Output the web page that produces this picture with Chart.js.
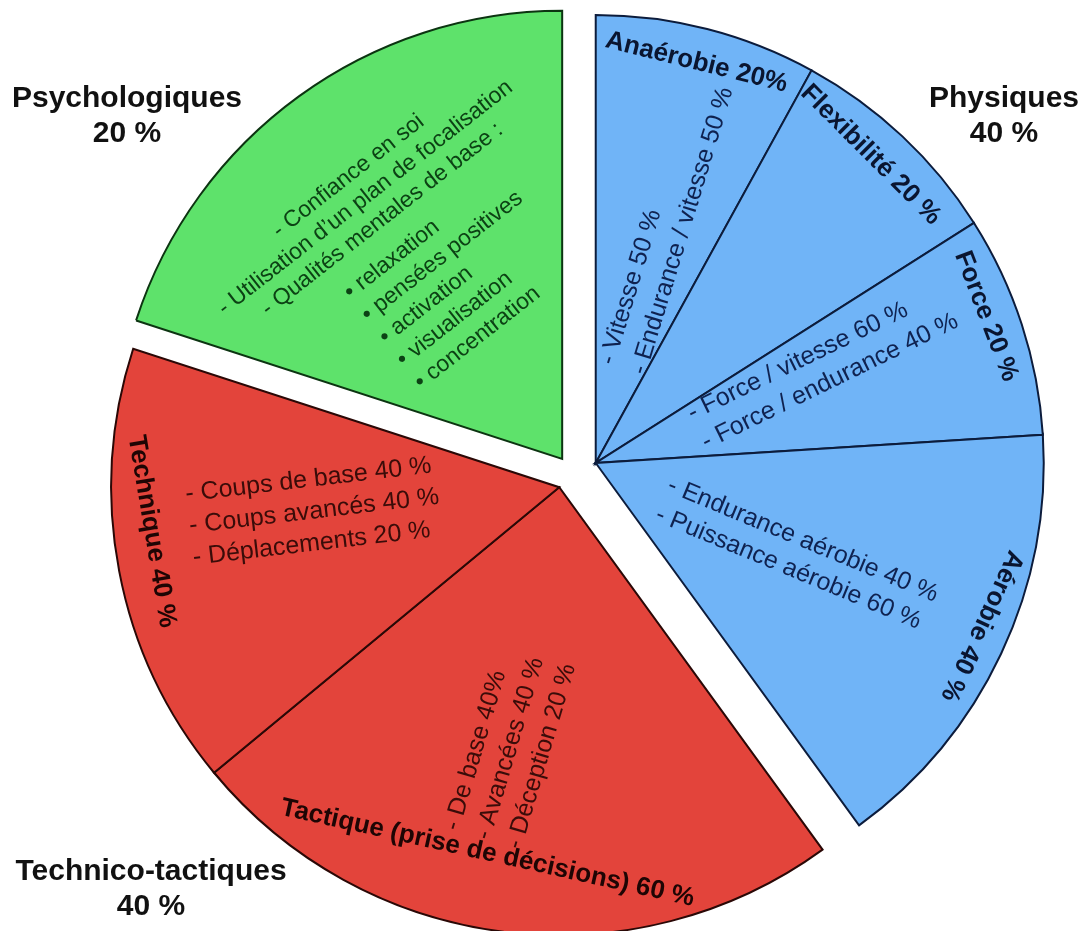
<!DOCTYPE html>
<html lang="fr">
<head>
<meta charset="utf-8">
<title>Répartition de l'entraînement</title>
<script src="https://cdn.jsdelivr.net/npm/chart.js@4.4.1/dist/chart.umd.min.js"></script>
<style>
  html, body { margin: 0; padding: 0; background: #fff; }
  #wrap { position: relative; width: 1084px; height: 931px; }
</style>
</head>
<body>
<div id="wrap"><canvas id="pieChart"></canvas></div>
<script>
// groupes principaux et leur part du total
const groups = ["Physiques", "Technico-tactiques", "Psychologiques"];
const groupShares = [40, 40, 20];

// sous-parts (en % du groupe)
const subLabels = ["Anaérobie", "Flexibilité", "Force", "Aérobie", "Tactique (prise de décisions)", "Technique", "Psychologiques"];
const subShares = [20, 20, 20, 40, 60, 40, 100];
const subGroup = [0, 0, 0, 0, 1, 1, 2];

// contenu de chaque part
const anaerobieItems = ["- Vitesse 50 %", "- Endurance / vitesse 50 %"];
const forceItems = ["- Force / vitesse 60 %", "- Force / endurance 40 %"];
const aerobieItems = ["- Endurance aérobie 40 %", "- Puissance aérobie 60 %"];
const tactiqueItems = ["- De base 40%", "- Avancées 40 %", "- Déception 20 %"];
const techniqueItems = ["- Coups de base 40 %", "- Coups avancés 40 %", "- Déplacements 20 %"];
const psychoItems = ["- Confiance en soi", "- Utilisation d’un plan de focalisation", "- Qualités mentales de base :"];
const psychoQualities = ["relaxation", "pensées positives", "activation", "visualisation", "concentration"];

// valeur de chaque part dans le total
const values = subShares.map((s, i) => (s * groupShares[subGroup[i]]) / 100);

const fillColors = ["#70b4f7", "#e3443b", "#5ee26b"];
const edgeColors = ["#0c1c3c", "#2a0806", "#0c3411"];
const textColors = ["#0f2250", "#3a0c09", "#0c4214"];
const titleColors = ["#0a1530", "#1e0504", "#0a2a0d"];
const explode = [26, 20, 15];

const FONT = '"Liberation Sans", Arial, Helvetica, sans-serif';

const titles = subLabels.map((n, i) =>
  subGroup[i] === 2 ? null : n + " " + subShares[i] + (i === 0 ? "%" : " %")
);

// placement des textes : part, fraction de l'angle, distance au centre, rotation
const titleLayout = [
  { f: 0.49, d: 413, rot: 14 },
  { f: 0.45, d: 413, rot: 45 },
  { f: 0.41, d: 417, rot: 69 },
  { f: 0.46, d: 419, rot: 115 },
  { f: 0.545, d: 373, rot: 12.5 },
  { f: 0.58, d: 410, rot: 80.5 },
  null,
];

const blocks = [
  { lines: anaerobieItems, slice: 0, f: 0.5625, d: 98, rot: -73, align: "left", lh: 33, size: 25 },
  { lines: forceItems, slice: 2, f: 0.476, d: 106, rot: -26, align: "left", lh: 32, size: 25 },
  { lines: aerobieItems, slice: 3, f: 0.554, d: 76, rot: 22.5, align: "left", lh: 31.5, size: 25 },
  { lines: tactiqueItems, slice: 4, f: 0.558, d: 360, rot: -73.5, align: "left", lh: 32.5, size: 25 },
  { lines: techniqueItems, slice: 5, f: 0.583, d: 372, rot: -6.7, align: "left", lh: 32, size: 25 },
  { lines: psychoItems, slice: 6, f: 0.486, d: 327, rot: -38, align: "center", lh: 27.5, size: 23 },
  { lines: psychoQualities.map((q) => "• " + q), slice: 6, f: 0.215, d: 216, rot: -38, align: "left", lh: 28.6, size: 23 },
];

// étiquettes des groupes hors du camembert (ligne de base de la 1re ligne)
const groupLabelPos = [
  { x: 1004, y: 107 },
  { x: 151, y: 880 },
  { x: 127, y: 107 },
];

const rad = (deg) => (deg * Math.PI) / 180;

function groupShift(chart, g) {
  const arcs = chart.getDatasetMeta(0).data;
  const idx = [];
  subGroup.forEach((gg, i) => { if (gg === g) idx.push(i); });
  const mid = (arcs[idx[0]].startAngle + arcs[idx[idx.length - 1]].endAngle) / 2;
  return { dx: explode[g] * Math.cos(mid), dy: explode[g] * Math.sin(mid) };
}

function pointInSlice(chart, i, f, d) {
  const arc = chart.getDatasetMeta(0).data[i];
  const s = groupShift(chart, subGroup[i]);
  const a = arc.startAngle + f * (arc.endAngle - arc.startAngle);
  return { x: arc.x + s.dx + d * Math.cos(a), y: arc.y + s.dy + d * Math.sin(a) };
}

function drawLines(ctx, x, y, rot, lines, font, color, align, lh) {
  ctx.save();
  ctx.translate(x, y);
  ctx.rotate(rad(rot));
  ctx.font = font;
  ctx.fillStyle = color;
  ctx.textAlign = align;
  ctx.textBaseline = "middle";
  const top = -((lines.length - 1) * lh) / 2;
  lines.forEach((line, k) => ctx.fillText(line, 0, top + k * lh));
  ctx.restore();
}

// décale chaque groupe de parts vers l'extérieur
const explodePlugin = {
  id: "explodeGroups",
  beforeDatasetDraw(chart) {
    chart.getDatasetMeta(0).data.forEach((arc, i) => {
      const s = groupShift(chart, subGroup[i]);
      arc.x += s.dx;
      arc.y += s.dy;
    });
  },
  afterDatasetDraw(chart) {
    chart.getDatasetMeta(0).data.forEach((arc, i) => {
      const s = groupShift(chart, subGroup[i]);
      arc.x -= s.dx;
      arc.y -= s.dy;
    });
  },
};

const textPlugin = {
  id: "sliceTexts",
  afterDraw(chart) {
    const ctx = chart.ctx;

    titles.forEach((t, i) => {
      if (!t) return;
      const l = titleLayout[i];
      const p = pointInSlice(chart, i, l.f, l.d);
      drawLines(ctx, p.x, p.y, l.rot, [t], "bold 26px " + FONT, titleColors[subGroup[i]], "center", 0);
    });

    blocks.forEach((b) => {
      const p = pointInSlice(chart, b.slice, b.f, b.d);
      drawLines(ctx, p.x, p.y, b.rot, b.lines, b.size + "px " + FONT, textColors[subGroup[b.slice]], b.align, b.lh);
    });

    ctx.save();
    ctx.font = "bold 30px " + FONT;
    ctx.fillStyle = "#111";
    ctx.textAlign = "center";
    ctx.textBaseline = "alphabetic";
    groups.forEach((g, k) => {
      const pos = groupLabelPos[k];
      ctx.fillText(g, pos.x, pos.y);
      ctx.fillText(groupShares[k] + " %", pos.x, pos.y + 35);
    });
    ctx.restore();
  },
};

const ctx = document.getElementById("pieChart").getContext("2d");

const pieChart = new Chart(ctx, {
  type: "pie",
  data: {
    labels: subLabels,
    datasets: [
      {
        data: values,
        backgroundColor: subGroup.map((g) => fillColors[g]),
        borderColor: subGroup.map((g) => edgeColors[g]),
        borderWidth: 2,
        borderJoinStyle: "miter",
        radius: 448,
      },
    ],
  },
  options: {
    responsive: true,
    maintainAspectRatio: false,
    animation: false,
    events: [],
    layout: { padding: { left: 58, right: 0, top: 11, bottom: 0 } },
    plugins: {
      legend: { display: false },
      tooltip: { enabled: false },
    },
  },
  plugins: [explodePlugin, textPlugin],
});
</script>
</body>
</html>
